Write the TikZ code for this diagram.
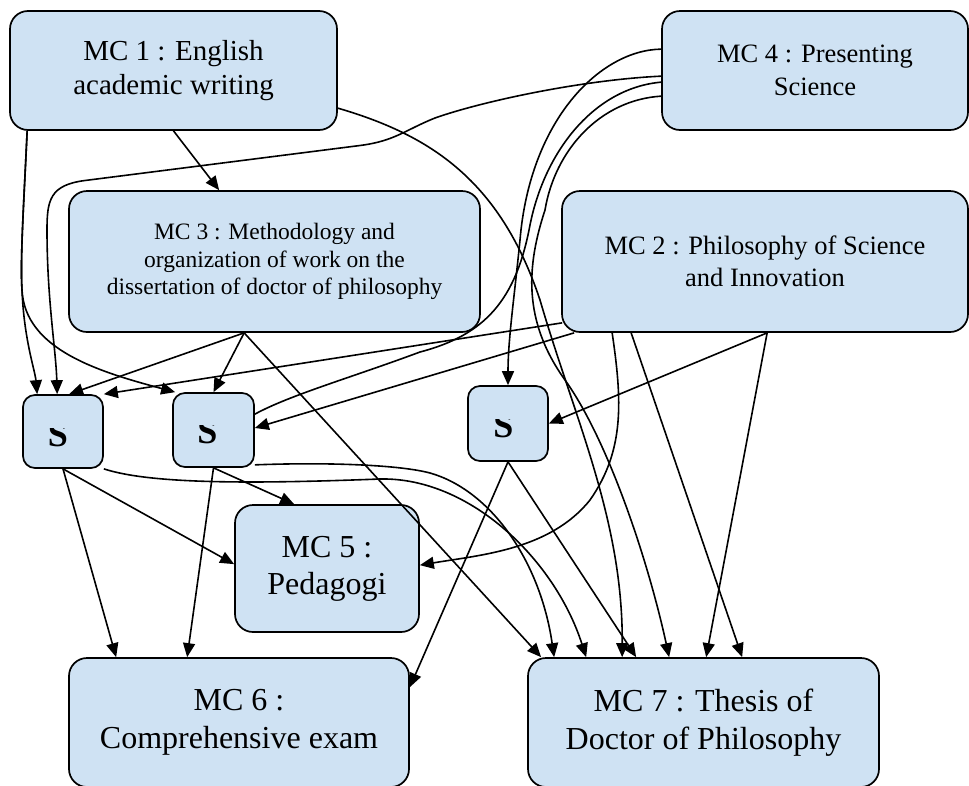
\documentclass[tikz,border=0pt]{standalone}
\usepackage{fontspec}
\setmainfont{Liberation Serif}
\usetikzlibrary{calc,arrows.meta}
\definecolor{boxblue}{RGB}{207,226,243}
\begin{document}
\begin{tikzpicture}[x=1pt,y=-1pt,
  box/.style={draw=black,line width=1.7pt,fill=boxblue,rounded corners=18pt,inner sep=0pt,align=center},
  sbox/.style={draw=black,line width=1.7pt,fill=boxblue,rounded corners=12pt,inner sep=0pt},
  stext/.style={anchor=base,inner sep=0pt,font=\fontsize{36}{36}\selectfont\bfseries},
  link/.style={line width=1.6pt,-{Triangle[length=14pt,width=12pt]}},
  plainlink/.style={line width=1.6pt}]
\useasboundingbox (0,0) rectangle (969,785);

% nodes
\node[box,minimum width=327pt,minimum height=119pt,font=\fontsize{29}{34}\selectfont] (mc1) at (173.5,70.5) {MC 1 : English\\academic writing};
\node[box,minimum width=306pt,minimum height=119pt,font=\fontsize{26.5}{33}\selectfont] (mc4) at (815,70.5) {MC 4 : Presenting\\Science};
\node[box,minimum width=411pt,minimum height=141pt,font=\fontsize{23.5}{27.5}\selectfont] (mc3) at (274.5,261.5) {MC 3 : Methodology and\\organization of work on the\\dissertation of doctor of philosophy};
\node[box,minimum width=406pt,minimum height=141pt,font=\fontsize{26.5}{32}\selectfont] (mc2) at (765,261.5) {MC 2 : Philosophy of Science\\and Innovation};
\node[sbox,minimum width=80pt,minimum height=73pt] (s1) at (63,431.5) {};
\node[sbox,minimum width=81pt,minimum height=74pt] (s2) at (213.5,430) {};
\node[sbox,minimum width=80pt,minimum height=75pt] (s3) at (508,423.5) {};
\node[box,minimum width=184pt,minimum height=127pt,font=\fontsize{32}{37}\selectfont] (mc5) at (327,568.5) {MC 5 :\\Pedagogi};
\node[box,minimum width=340pt,minimum height=129pt,font=\fontsize{32}{38}\selectfont] (mc6) at (239,722.5) {MC 6 :\\Comprehensive exam};
\node[box,minimum width=351pt,minimum height=129pt,font=\fontsize{32}{38}\selectfont] (mc7) at (703.5,722.5) {MC 7 : Thesis of\\Doctor of Philosophy};

% clipped S labels
\begin{scope}
\clip ($(s1.center)+(-38,-3.5)$) rectangle ($(s1.center)+(38,19.5)$);
\node[stext] (s1label) at ($(s1.center)+(-5,14.5)$) {S};
\end{scope}
\begin{scope}
\clip ($(s2.center)+(-38,-5)$) rectangle ($(s2.center)+(38,18)$);
\node[stext] (s2label) at ($(s2.center)+(-6,13)$) {S};
\end{scope}
\begin{scope}
\clip ($(s3.center)+(-38,-4.5)$) rectangle ($(s3.center)+(38,18.5)$);
\node[stext] (s3label) at ($(s3.center)+(-4.5,13.5)$) {S};
\end{scope}

% MC1 edges
\draw[link] (mc1.south) -- ($(mc3.north west)+(151,0)$);
\draw[link] ($(mc1.south west)+(18,0)$) .. controls (24,200) and (20,260) .. (22,290) .. controls (25,350) and (100,372) .. ($(s2.north west)+(3,0)$);
\draw[link] ($(mc1.south west)+(18,0)$) .. controls (24,200) and (20,260) .. (22,290) .. controls (24,340) and (35,370) .. ($(s1.north west)+(15,0)$);
\draw[link] ($(mc1.north east)+(0,98)$) .. controls (430,135) and (500,180) .. (540,300) .. controls (575,420) and (623,520) .. ($(mc7.north west)+(95,0)$);

% MC4 edges
\draw[link] ($(mc4.north west)+(0,66)$) .. controls (580,80) and (480,102) .. (435,118) .. controls (405,130) and (395,141) .. (360,145.5) -- (85,180.5) .. controls (50,185) and (47,200) .. (47,230) .. controls (47,300) and (56,350) .. ($(s1.north west)+(35,0)$);
\draw[link] ($(mc4.north west)+(0,39)$) .. controls (600,50) and (530,120) .. (520,240) .. controls (514,300) and (508,340) .. (s3.north);
\draw[plainlink] ($(mc4.north west)+(0,72)$) .. controls (595,88) and (545,150) .. (530,225) .. controls (516,300) and (485,335) .. (420,352) .. controls (350,378) and (290,395) .. ($(s2.north east)+(0,22)$);
\draw[link] ($(mc4.north west)+(0,86)$) .. controls (600,100) and (555,150) .. (545,210) .. controls (527,265) and (522,320) .. (565,380) .. controls (608,440) and (648,560) .. ($(mc7.north west)+(142,0)$);

% MC3 edges
\draw[link] ($(mc3.south west)+(176,0)$) -- ($(s1.north west)+(47,0)$);
\draw[link] ($(mc3.south west)+(176,0)$) -- (s2.north);
\draw[link] ($(mc3.south west)+(176,0)$) -- ($(mc7.north west)+(14,0)$);

% MC2 edges
\draw[link] ($(mc2.south west)+(1,-10)$) -- (s1.north east);
\draw[link] ($(mc2.south west)+(13,0)$) -- ($(s2.east)+(0,-2)$);
\draw[link] ($(mc2.south west)+(206,0)$) -- (s3.east);
\draw[link] ($(mc2.south west)+(206,0)$) -- ($(mc7.north west)+(179,0)$);
\draw[link] ($(mc2.south west)+(70,0)$) -- ($(mc7.north west)+(215,0)$);
\draw[link] ($(mc2.south west)+(51,0)$) .. controls (622,400) and (625,450) .. (590,500) .. controls (550,550) and (480,555) .. ($(mc5.north east)+(0,61)$);

% S edges
\draw[link] (s1.south) -- ($(mc5.north west)+(0,60)$);
\draw[link] (s1.south) -- ($(mc6.north west)+(48,0)$);
\draw[link] (s2.south) -- ($(mc5.north west)+(60,0)$);
\draw[link] (s2.south) -- ($(mc6.north west)+(119,0)$);
\draw[link] (s3.south) -- ($(mc6.north east)+(0,30)$);
\draw[link] (s3.south) -- ($(mc7.north west)+(109,0)$);
\draw[link] (s1.south east) .. controls (150,484) and (250,484) .. (380,479) .. controls (470,477) and (555,560) .. ($(mc7.north west)+(59,0)$);
\draw[link] ($(s2.south east)+(0,-3)$) .. controls (330,462) and (400,465) .. (430,473) .. controls (490,490) and (540,560) .. ($(mc7.north west)+(27,0)$);
\end{tikzpicture}
\end{document}
